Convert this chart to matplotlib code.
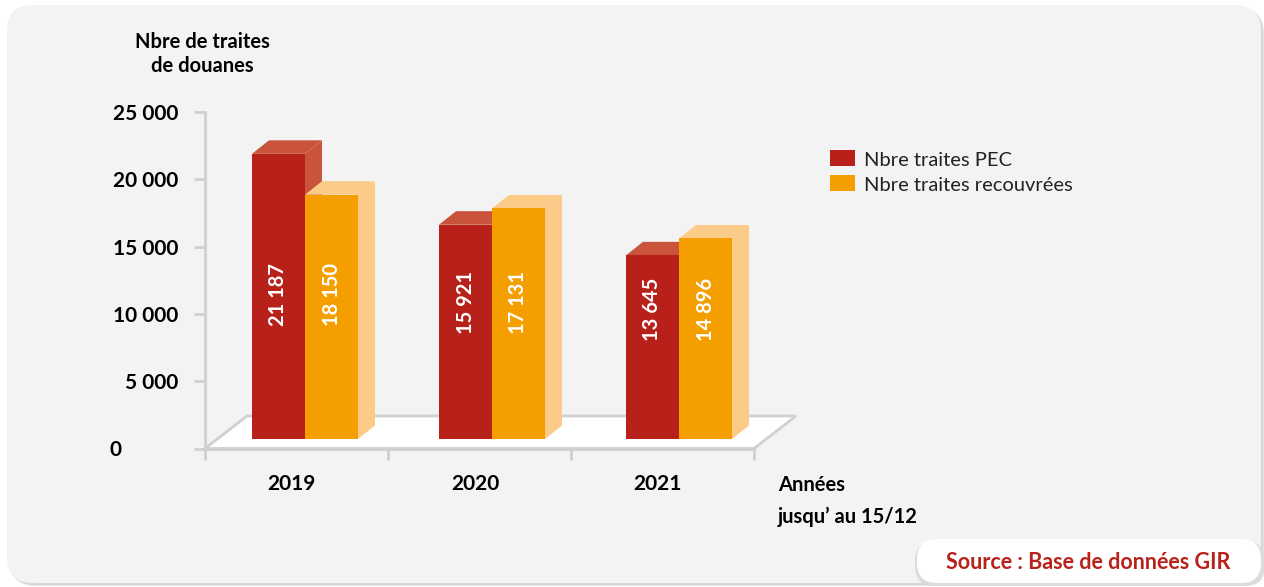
import matplotlib
matplotlib.use("Agg")
import matplotlib.pyplot as plt
from matplotlib.patches import Polygon, FancyBboxPatch, Rectangle

# ---- data -------------------------------------------------------------
years = ["2019", "2020", "2021"]
traites_pec = [21187, 15921, 13645]
traites_recouvrees = [18150, 17131, 14896]
series_labels = ["Nbre traites PEC", "Nbre traites recouvrées"]
y_ticks = [0, 5000, 10000, 15000, 20000, 25000]

# ---- style ------------------------------------------------------------
plt.rcParams["font.family"] = ["Lato", "DejaVu Sans"]
RED_FRONT, RED_SHADE = "#B8201A", "#C9533B"
ORA_FRONT, ORA_SHADE = "#F59E00", "#FCCB87"
GRID_GREY = "#D0D0D0"
PANEL = "#F3F3F3"
SOURCE_RED = "#B7231B"

W, H = 1264, 587
fig = plt.figure(figsize=(W / 100, H / 100), dpi=100)
fig.patch.set_facecolor("white")

# background layer in pixel units (y pointing down)
bg = fig.add_axes([0, 0, 1, 1], zorder=0)
bg.set_xlim(0, W)
bg.set_ylim(H, 0)
bg.axis("off")

# panel with a soft shadow
for off, col in [(3, "#E2E2E2"), (2, "#D8D8D8")]:
    bg.add_patch(FancyBboxPatch((7 + off, 5 + off), 1254, 578,
                                boxstyle="round,pad=0,rounding_size=26",
                                facecolor=col, edgecolor="none"))
bg.add_patch(FancyBboxPatch((7, 5), 1254, 578,
                            boxstyle="round,pad=0,rounding_size=26",
                            facecolor=PANEL, edgecolor="none"))

# source box
bg.add_patch(FancyBboxPatch((915, 541), 350, 45,
                            boxstyle="round,pad=0,rounding_size=20",
                            facecolor="#DCDCDC", edgecolor="none"))
bg.add_patch(FancyBboxPatch((917, 539), 344, 44,
                            boxstyle="round,pad=0,rounding_size=20",
                            facecolor="white", edgecolor="none"))
bg.text(1088, 569, "Source : Base de données GIR", ha="center", va="baseline",
        fontsize=15.5, fontweight="bold", color=SOURCE_RED)

# axis titles
bg.text(202, 47.5, "Nbre de traites", ha="center", va="baseline",
        fontsize=14.5, fontweight="bold", color="black")
bg.text(202, 72, "de douanes", ha="center", va="baseline",
        fontsize=14.5, fontweight="bold", color="black")
bg.text(778, 491, "Années", ha="left", va="baseline",
        fontsize=14.5, fontweight="bold", color="black")
bg.text(778, 523, "jusqu\u2019 au 15/12", ha="left", va="baseline",
        fontsize=14.5, fontweight="bold", color="black")

# legend
for k, (lab, col) in enumerate(zip(series_labels, [RED_FRONT, ORA_FRONT])):
    y0 = 150 + 25 * k
    bg.add_patch(Rectangle((830, y0), 25, 16, facecolor=col, edgecolor="none"))
    bg.text(864, y0 + 16, lab, ha="left", va="baseline", fontsize=14.5,
            color="#222222")

# ---- chart area -------------------------------------------------------
PX_CAT = 183.0           # pixels per category
AX_LEFT, AX_BOTTOM, AX_HEIGHT = 205, 448.5, 336.5
ax = fig.add_axes([AX_LEFT / W, (H - AX_BOTTOM) / H, 3 * PX_CAT / W, AX_HEIGHT / H],
                  zorder=1)
ax.set_xlim(-0.5, 2.5)
ax.set_ylim(0, 25000)
ax.patch.set_visible(False)

ux = 1.0 / PX_CAT                 # data units per pixel (x)
uy = 25000.0 / AX_HEIGHT          # data units per pixel (y)

# floor
fdx, fdy = 42 * ux, 32.5 * uy
floor = Polygon([(-0.5, 0), (2.5, 0), (2.5 + fdx, fdy), (-0.5 + fdx, fdy)],
                closed=True, facecolor="white", edgecolor=GRID_GREY, lw=2,
                clip_on=False, zorder=1)
ax.add_patch(floor)

# spines and ticks
for side in ["top", "right"]:
    ax.spines[side].set_visible(False)
for side in ["left", "bottom"]:
    ax.spines[side].set_color(GRID_GREY)
    ax.spines[side].set_linewidth(2)
    ax.spines[side].set_zorder(2)

ax.set_yticks(y_ticks)
ax.set_yticklabels([""] + [f"{v:,}".replace(",", " ") for v in y_ticks[1:]])
ax.tick_params(axis="y", length=8, width=2, color=GRID_GREY, pad=11.5,
               labelsize=15)
for lbl in ax.get_yticklabels():
    lbl.set_fontweight("bold")
bg.text(110, AX_BOTTOM, "0", ha="left", va="center_baseline",
        fontsize=15, fontweight="bold")

ax.set_xticks([-0.5, 0.5, 1.5, 2.5])
ax.set_xticklabels([])
ax.tick_params(axis="x", length=8, width=2, color=GRID_GREY)
for i, yr in enumerate(years):
    ax.text(i - 0.025, -41 * uy, yr, ha="center", va="baseline", fontsize=15,
            fontweight="bold", clip_on=False)

# 3-D style bars
bar_w = 53 * ux
bdx, bdy = 17 * ux, 13.5 * uy
base = 9.5 * uy
group_step = 187 * ux
first_left = (252 - AX_LEFT) * ux - 0.5


def draw_bar(xl, value, front, shade, z):
    xr = xl + bar_w
    top = base + value
    ax.bar(xl, value, bottom=base, width=bar_w, align="edge", color=front,
           linewidth=0, zorder=z + 0.2, clip_on=False)
    ax.add_patch(Polygon([(xl, top), (xr, top), (xr + bdx, top + bdy),
                          (xl + bdx, top + bdy)], closed=True, facecolor=shade,
                         edgecolor="none", zorder=z + 0.1, clip_on=False))
    ax.add_patch(Polygon([(xr, base), (xr, top), (xr + bdx, top + bdy),
                          (xr + bdx, base + bdy)], closed=True, facecolor=shade,
                         edgecolor="none", zorder=z, clip_on=False))


for i in range(len(years)):
    xl_red = first_left + i * group_step
    xl_ora = xl_red + bar_w
    draw_bar(xl_red, traites_pec[i], RED_FRONT, RED_SHADE, 3)
    draw_bar(xl_ora, traites_recouvrees[i], ORA_FRONT, ORA_SHADE, 4)

    label_y = 0.25 * min(traites_pec[i], traites_recouvrees[i]) + 6900
    for xl, v in [(xl_red, traites_pec[i]), (xl_ora, traites_recouvrees[i])]:
        ax.text(xl + bar_w / 2, label_y, f"{v:,}".replace(",", " "),
                rotation=90, ha="center", va="center", color="white",
                fontsize=14.5, fontweight="bold", zorder=6, clip_on=False)

fig.savefig("out.png", dpi=100, facecolor="white")
